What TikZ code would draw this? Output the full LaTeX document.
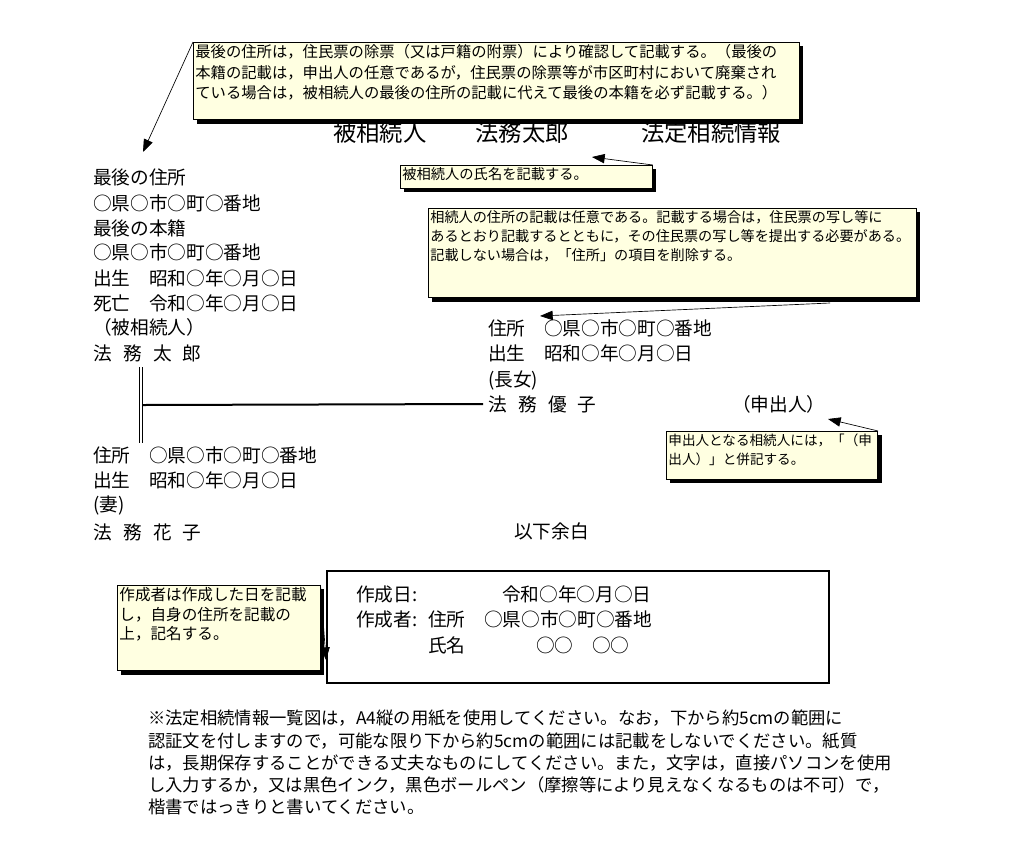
\documentclass[tikz,border=0pt]{standalone}
\usepackage{fontspec}
\setmainfont{Noto Sans CJK JP}
\usepackage{tikz}
\usetikzlibrary{positioning,arrows.meta,shadows}
\definecolor{fondonota}{RGB}{255,255,225}
\newcommand{\jsep}{\hspace{.6em}}
\newcommand{\notatexto}[3]{\parbox[c][#2][t]{#1}{\raggedright #3}}

\begin{document}
\begin{tikzpicture}[x=0.75pt, y=-0.75pt,
  texto/.style={anchor=west, inner sep=0pt, font=\fontsize{14pt}{17pt}\selectfont},
  aviso/.style={draw, line width=0.6pt, fill=fondonota, anchor=north west, inner sep=1.5pt,
    general shadow={fill=black, shadow xshift=3pt, shadow yshift=-3pt}},
  puntero/.style={-{Triangle[length=9.5pt,width=7pt]}, line width=0.5pt},
  linea/.style={line width=1.5pt}
]
\path[use as bounding box, fill=white] (0,0) rectangle (1019,864);

\node[anchor=west, inner sep=0pt, font=\fontsize{17.5pt}{20pt}\selectfont] (titulo) at (333,133)
  {被相続人\hspace{2.1em}法務太郎\hspace{3.1em}法定相続情報};

% notas
\node[aviso, font=\fontsize{11.5pt}{15.4pt}\selectfont] (notaA) at (193,42) {\notatexto{451.5pt}{55pt}{%
最後の住所は，住民票の除票（又は戸籍の附票）により確認して記載する。（最後の\\
本籍の記載は，申出人の任意であるが，住民票の除票等が市区町村において廃棄され\\
ている場合は，被相続人の最後の住所の記載に代えて最後の本籍を必ず記載する。）}};
\node[aviso, font=\fontsize{10.7pt}{14pt}\selectfont] (notaB) at (400,165) {\notatexto{186pt}{14pt}{%
被相続人の氏名を記載する。}};
\node[aviso, font=\fontsize{10.6pt}{14.3pt}\selectfont] (notaC) at (428,208) {\notatexto{363pt}{64pt}{%
相続人の住所の記載は任意である。記載する場合は，住民票の写し等に\\
あるとおり記載するとともに，その住民票の写し等を提出する必要がある。\\
記載しない場合は，「住所」の項目を削除する。}};
\node[aviso, font=\fontsize{10.2pt}{14.3pt}\selectfont] (notaD) at (666,431) {\notatexto{155.5pt}{33pt}{%
申出人となる相続人には，「（申\\
出人）」と併記する。}};
\node[aviso, font=\fontsize{11.7pt}{14.6pt}\selectfont] (notaE) at (117,585) {\notatexto{149pt}{61pt}{%
作成者は作成した日を記載\\
し，自身の住所を記載の\\
上，記名する。}};

%被相続人
\node[texto] (ultdom) at (93,177) {最後の住所};
\node[texto] (ultdomdir) at (93,203) {○県○市○町○番地};
\node[texto] (ultreg) at (93,228) {最後の本籍};
\node[texto] (ultregdir) at (93,252) {○県○市○町○番地};
\node[texto] (nacpadre) at (93,278) {出生　昭和○年○月○日};
\node[texto] (defpadre) at (93,303) {死亡　令和○年○月○日};
\node[texto] (rolpadre) at (93,327) {（被相続人）};
\node[texto] (padre) at (93,353) {法\jsep{}務\jsep{}太\jsep{}郎};

% 長女
\node[texto] (domhija) at (488,328) {住所　○県○市○町○番地};
\node[texto] (nachija) at (488,353) {出生　昭和○年○月○日};
\node[texto] (rolhija) at (488,380) {(長女)};
\node[texto] (hija) at (488,404) {法\jsep{}務\jsep{}優\jsep{}子};
\node[texto] (solic) at (732,404) {（申出人）};

% 妻
\node[texto] (domesposa) at (93,455) {住所　○県○市○町○番地};
\node[texto] (nacesposa) at (93,480) {出生　昭和○年○月○日};
\node[texto] (rolesposa) at (93,505) {(妻)};
\node[texto] (esposa) at (93,532) {法\jsep{}務\jsep{}花\jsep{}子};

\node[texto] (resto) at (514,531) {以下余白};

% lineas
\coordinate (unionsup) at (141,367);
\coordinate (unioninf) at (141,443);
\draw[double, line width=1pt, double distance=1.5pt] (unionsup) -- (unioninf);
\coordinate (rama) at (143,405);
\draw[linea, shorten >=3.75pt] (rama) -- (hija.west);

% recuadro del autor
\node[draw, line width=1.2pt, anchor=north west, inner sep=0pt,
  minimum width=376.5pt, minimum height=84pt] (recuadro) at (326,570) {};
\node[texto] (fechaet) at (356,594) {作成日:};
\node[texto] (fecha) at (502,594) {令和○年○月○日};
\node[texto] (autoret) at (356,619) {作成者:};
\node[texto] (autordom) at (428,619) {住所　○県○市○町○番地};
\node[texto] (nombreet) at (428,645) {氏名};
\node[texto] (nombre) at (536,645) {○○　○○};

% punteros
\coordinate (puntaA) at (143,152);
\draw[puntero] (notaA.north west) -- (puntaA);
\coordinate (puntaB) at (592,157);
\draw[puntero] (notaB.north east) -- (puntaB);
\coordinate (origenC) at (830,303);
\coordinate (puntaC) at (540,316);
\draw[puntero] (origenC) -- (puntaC);
\coordinate (puntaD) at (828,419);
\draw[puntero] (notaD.north east) -- (puntaD);
\coordinate (puntaE) at (326,660);
\draw[puntero] (notaE.north east) -- (puntaE);

\node[anchor=north west, inner sep=0pt, align=left, font=\fontsize{13pt}{16.7pt}\selectfont] (pie) at (148,710) {%
※法定相続情報一覧図は，A4縦の用紙を使用してください。なお，下から約5cmの範囲に\\
認証文を付しますので，可能な限り下から約5cmの範囲には記載をしないでください。紙質\\
は，長期保存することができる丈夫なものにしてください。また，文字は，直接パソコンを使用\\
し入力するか，又は黒色インク，黒色ボールペン（摩擦等により見えなくなるものは不可）で，\\
楷書ではっきりと書いてください。};
\end{tikzpicture}
\end{document}
